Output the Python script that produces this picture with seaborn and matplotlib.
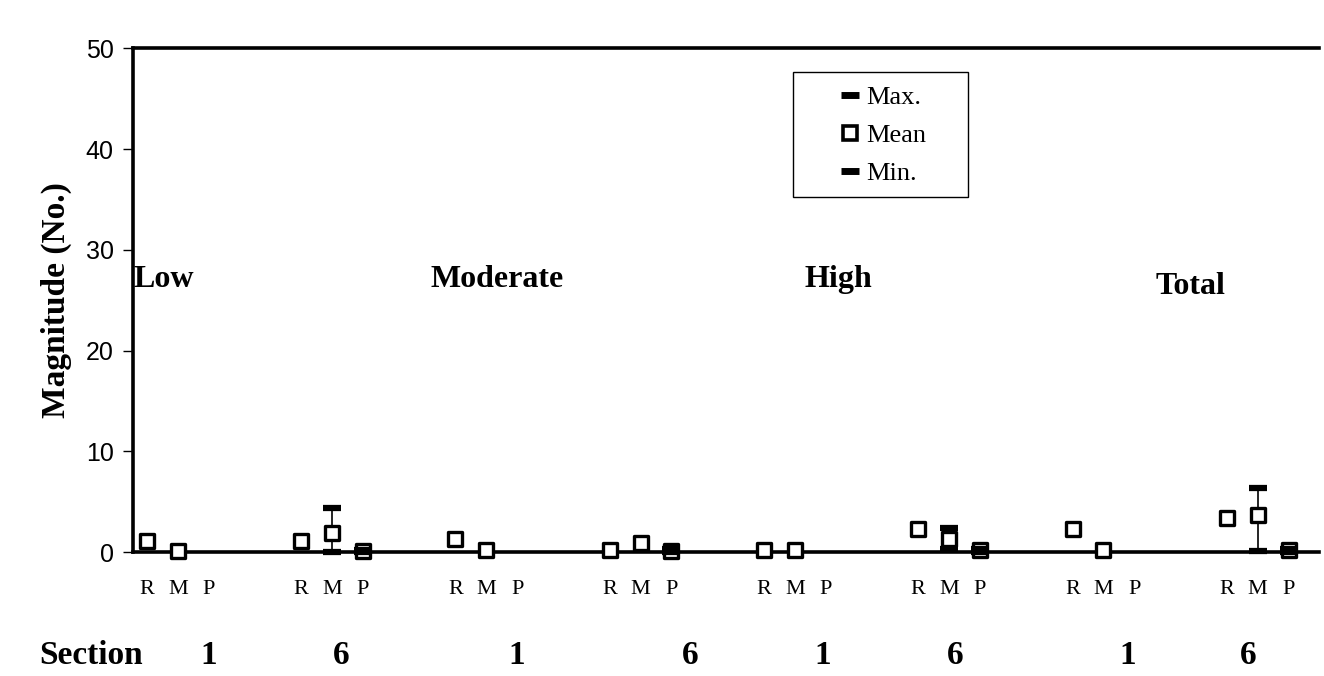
import numpy as np
import pandas as pd
import seaborn as sns
import matplotlib.pyplot as plt
from matplotlib.lines import Line2D
from matplotlib.patches import Rectangle
from matplotlib.transforms import blended_transform_factory

# Data: 8 groups (category x section), R / M / P in each
categories = ["Low", "Moderate", "High", "Total"]
sections = ["1", "6", "1", "6", "1", "6", "1", "6"]
points = ["R", "M", "P"]

mean_R = [1.1, 1.1, 1.3, 0.2, 0.2, 2.3, 2.3, 3.4]
mean_M = [0.1, 1.9, 0.2, 0.9, 0.2, 1.3, 0.2, 3.7]
mean_P = [np.nan, 0.1, np.nan, 0.1, np.nan, 0.2, np.nan, 0.2]

max_M = [np.nan, 4.4, np.nan, np.nan, np.nan, 2.4, np.nan, 6.4]
min_M = [np.nan, 0.0, np.nan, np.nan, np.nan, 0.3, np.nan, 0.1]
max_P = [np.nan, 0.2, np.nan, 0.3, np.nan, 0.3, np.nan, 0.3]
min_P = [np.nan, 0.0, np.nan, 0.0, np.nan, 0.0, np.nan, 0.0]

# long table, x position = group * 5 + index of R/M/P
rows = []
for g in range(8):
    for k, p in enumerate(points):
        mean = [mean_R, mean_M, mean_P][k][g]
        mx = [[np.nan] * 8, max_M, max_P][k][g]
        mn = [[np.nan] * 8, min_M, min_P][k][g]
        rows.append({"x": g * 5 + k, "point": p, "mean": mean, "max": mx, "min": mn})
df = pd.DataFrame(rows)

sns.set_style("ticks")
plt.rcParams["font.family"] = ["Liberation Serif", "DejaVu Serif"]
plt.rcParams["text.color"] = "black"
plt.rcParams["axes.labelcolor"] = "black"
plt.rcParams["xtick.color"] = "black"
plt.rcParams["ytick.color"] = "black"

fig = plt.figure(figsize=(13.24, 6.76), dpi=100)
ax = fig.add_axes([0.1005, 0.1834, 0.896, 0.745])

# whiskers min -> max
rng = df.dropna(subset=["max", "min"])
ax.vlines(rng["x"], rng["min"], rng["max"], color="black", lw=1.2, zorder=2)

sns.scatterplot(data=df, x="x", y="mean", marker="s", s=100, facecolor="white",
                edgecolor="black", linewidth=2.4, ax=ax, zorder=3, legend=False,
                clip_on=False)
for col in ["max", "min"]:
    sns.scatterplot(data=df, x="x", y=col, marker="_", s=150, color="black",
                    linewidth=4.5, ax=ax, zorder=4, legend=False, clip_on=False)

ax.set_xlim(-0.45, 38.0)
ax.set_ylim(0, 50)
ax.set_yticks(range(0, 51, 10))
for lab in ax.get_yticklabels():
    lab.set_family("Liberation Sans")
ax.tick_params(axis="y", direction="out", length=7, width=1, labelsize=18, pad=7)
ax.set_xticks(df["x"])
ax.set_xticklabels(df["point"], fontsize=16)
ax.tick_params(axis="x", length=0, pad=20)
ax.set_xlabel("")
ax.set_ylabel("Magnitude (No.)", fontsize=24, fontweight="bold", labelpad=10)

for side in ["left", "bottom", "top"]:
    ax.spines[side].set_linewidth(2.6)
    ax.spines[side].set_color("black")
ax.spines["right"].set_visible(False)

# category labels
cat_pos = [(-0.45, 27.1), (9.2, 27.1), (21.3, 27.1), (32.7, 26.4)]
for name, (cx, cy) in zip(categories, cat_pos):
    ax.text(cx, cy, name, fontsize=23, fontweight="bold", ha="left", va="center")

# Section row under the x labels
trans = blended_transform_factory(ax.transData, fig.transFigure)
fig.text(0.03, 0.03, "Section", fontsize=24, fontweight="bold", ha="left", va="center")
sec_x = [2.0, 6.3, 12.0, 17.6, 21.9, 26.2, 31.8, 35.7]
for sx, s in zip(sec_x, sections):
    ax.text(sx, 0.03, s, transform=trans, fontsize=24, fontweight="bold",
            ha="center", va="center")

# legend: box drawn separately so the entries sit centred inside it
ax.add_patch(Rectangle((0.556, 0.705), 0.148, 0.248, transform=ax.transAxes,
                       facecolor="white", edgecolor="black", lw=1.0, zorder=5))
handles = [
    Line2D([], [], marker="_", color="black", ls="none", markersize=13, markeredgewidth=5),
    Line2D([], [], marker="s", color="black", markerfacecolor="white", ls="none",
           markersize=10, markeredgewidth=2.6),
    Line2D([], [], marker="_", color="black", ls="none", markersize=13, markeredgewidth=5),
]
leg = ax.legend(handles, ["Max.", "Mean", "Min."], loc="center",
                bbox_to_anchor=(0.633, 0.828), frameon=False,
                fontsize=19, handlelength=0.6, handletextpad=0.3,
                borderpad=0.0, labelspacing=0.55, borderaxespad=0)
leg.set_zorder(6)

fig.savefig("out.png", dpi=100)
